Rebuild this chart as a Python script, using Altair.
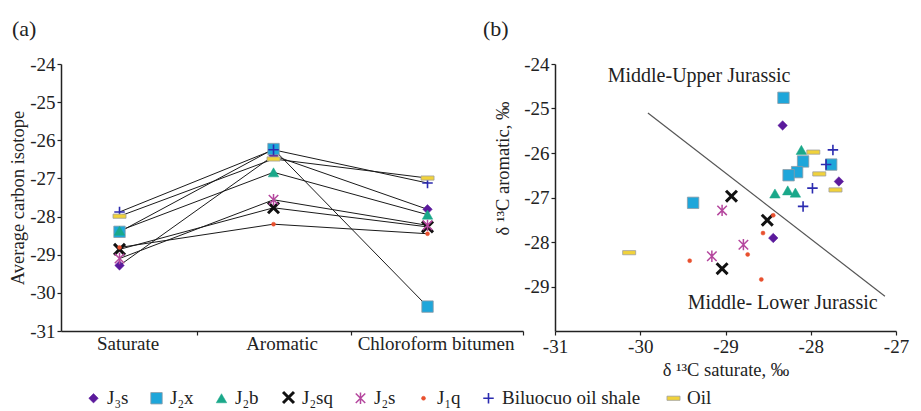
import altair as alt
import pandas as pd

# ---------------- data ----------------
series = ["J₃s", "J₂x", "J₂b", "J₂sq", "J₂s", "J₁q", "Biluocuo  oil shale", "Oil"]
categories = ["Saturate", "Aromatic", "Chloroform bitumen"]

# panel (a): average carbon isotope per series
saturate_avg = [-29.28, -28.40, -28.37, -28.86, -29.10, -28.81, -27.88, -27.99]
aromatic_avg = [-26.40, -26.23, -26.84, -27.77, -27.56, -28.20, -26.25, -26.49]
chloroform_avg = [-27.81, -30.36, -27.95, -28.27, -28.23, -28.45, -27.12, -26.99]

# panel (b): d13C saturate (x) vs d13C aromatic (y)
j3s_sat = [-28.33, -27.67, -28.44]
j3s_aro = [-25.38, -26.64, -27.91]
j2x_sat = [-28.32, -28.09, -28.16, -28.26, -27.76, -29.38]
j2x_aro = [-24.76, -26.19, -26.43, -26.50, -26.26, -27.12]
j2b_sat = [-28.11, -28.42, -28.27, -28.18]
j2b_aro = [-25.93, -26.91, -26.84, -26.89]
j2sq_sat = [-28.93, -28.51, -29.04]
j2sq_aro = [-26.97, -27.51, -28.60]
j2s_sat = [-29.04, -28.79, -29.16]
j2s_aro = [-27.29, -28.06, -28.32]
j1q_sat = [-28.44, -28.56, -28.74, -29.42, -28.58]
j1q_aro = [-27.40, -27.80, -28.28, -28.42, -28.84]
bil_sat = [-27.74, -27.82, -27.98, -28.09]
bil_aro = [-25.93, -26.26, -26.79, -27.20]
oil_sat = [-27.97, -27.90, -27.71, -30.13]
oil_aro = [-25.98, -26.47, -26.83, -28.24]

divider_x = [-29.91, -27.13]
divider_y = [-25.10, -29.22]
zone_labels = ["Middle-Upper Jurassic", "Middle- Lower Jurassic"]
zone_x = [-29.31, -28.33]
zone_y = [-24.27, -29.38]

# ---------------- styles ----------------
FONT = "Liberation Serif"
TXT = "#222222"
X_PATH = "M-1,-1L1,1M-1,1L1,-1"
AST_PATH = "M-1,-1L1,1M-1,1L1,-1M0,-1.2V1.2"
PLUS_PATH = "M-1,0H1M0,-1V1"
BAR_PATH = "M-1,-0.32H1V0.32H-1Z"
shapes = ["diamond", "square", "triangle-up", X_PATH, AST_PATH, "circle", PLUS_PATH, BAR_PATH]
fills = ["#5b1a9c", "#1ea6da", "#1aa88a", "#111111", "#b5479e", "#e8502e", "#2b2bb0", "#f1d23a"]
strokes = ["#5b1a9c", "#8c9aa6", "#1aa88a", "#111111", "#b5479e", "#e8502e", "#2b2bb0", "#a0a0a0"]
widths = [0.5, 0.8, 0.5, 3.0, 1.5, 0.5, 1.6, 0.8]
sizes = [90, 130, 110, 120, 90, 16, 110, 170]

legend_spec = alt.Legend(
    orient="none", legendX=23, legendY=324, direction="horizontal", columns=8,
    title=None, labelFont=FONT, labelFontSize=19, labelColor=TXT, columnPadding=18,
    labelOffset=4,
)

def enc_series():
    return dict(
        shape=alt.Shape("series:N", scale=alt.Scale(domain=series, range=shapes), title=None,
                        sort=series, legend=legend_spec),
        fill=alt.Fill("series:N", scale=alt.Scale(domain=series, range=fills), title=None,
                      sort=series, legend=legend_spec),
        stroke=alt.Stroke("series:N", scale=alt.Scale(domain=series, range=strokes), title=None,
                          sort=series, legend=legend_spec),
        strokeWidth=alt.StrokeWidth("series:N", scale=alt.Scale(type="ordinal", domain=series, range=widths),
                                    title=None, sort=series, legend=legend_spec),
        size=alt.Size("series:N", scale=alt.Scale(type="ordinal", domain=series, range=sizes),
                      title=None, sort=series, legend=legend_spec),
    )

AX = dict(
    grid=False, labelFont=FONT, titleFont=FONT, labelColor=TXT, titleColor=TXT,
    titleFontWeight="normal", domainColor=TXT, tickColor=TXT, domainWidth=1.5, tickWidth=1.2,
    labelFontSize=19, titleFontSize=18.5,
)
HYPHEN = "datum.value < 0 ? '-' + abs(datum.value) : '' + datum.value"

# ---------------- panel (a) ----------------
rows_a = []
for i, s in enumerate(series):
    for j, vals in enumerate([saturate_avg, aromatic_avg, chloroform_avg]):
        rows_a.append({"series": s, "idx": j, "value": vals[i]})
df_a = pd.DataFrame(rows_a)

label_expr = " : ".join(
    [f"datum.value == {j} ? '{c}'" for j, c in enumerate(categories)]
) + " : ''"

x_a = alt.X(
    "idx:Q",
    scale=alt.Scale(domain=[-0.38, 2.62], nice=False, zero=False),
    axis=alt.Axis(
        values=[0, 0.5, 1, 1.5, 2, 2.62],
        labelExpr=label_expr,
        title=None,
        labelOverlap=False,
        labelBound=False,
        labelFlush=False,
        labelOffset=8,
        labelPadding=3,
        tickSize={"condition": {"test": "datum.value % 1 == 0", "value": 0}, "value": 4},
        **AX,
    ),
)
y_a = alt.Y(
    "value:Q",
    scale=alt.Scale(domain=[-31, -24], nice=False, zero=False),
    axis=alt.Axis(values=list(range(-31, -23)), title="Average carbon isotope",
                  tickSize=4, titlePadding=2, labelExpr=HYPHEN, **AX),
)

lines_a = alt.Chart(df_a).mark_line(color="#1a1a1a", strokeWidth=1).encode(
    x=x_a, y=y_a, detail="series:N", order="idx:Q"
)
points_a = alt.Chart(df_a).mark_point(filled=True, opacity=1).encode(
    x=x_a, y=y_a, **enc_series()
)
panel_a = alt.layer(lines_a, points_a).properties(
    width=462, height=267,
    title=alt.TitleParams("(a)", anchor="start", frame="group", dx=-49, fontSize=22,
                          fontWeight="normal", font=FONT, color=TXT, offset=14),
)

# ---------------- panel (b) ----------------
rows_b = []
for s, xs, ys in zip(
    series,
    [j3s_sat, j2x_sat, j2b_sat, j2sq_sat, j2s_sat, j1q_sat, bil_sat, oil_sat],
    [j3s_aro, j2x_aro, j2b_aro, j2sq_aro, j2s_aro, j1q_aro, bil_aro, oil_aro],
):
    for xv, yv in zip(xs, ys):
        rows_b.append({"series": s, "sat": xv, "aro": yv})
df_b = pd.DataFrame(rows_b)

x_b = alt.X(
    "sat:Q",
    scale=alt.Scale(domain=[-31, -27], nice=False, zero=False),
    axis=alt.Axis(values=[-31, -30, -29, -28, -27], title="δ ¹³C saturate, ‰",
                  tickSize=4, labelFlush=False, titlePadding=4, labelExpr=HYPHEN, **AX),
)
y_b = alt.Y(
    "aro:Q",
    scale=alt.Scale(domain=[-30, -24], nice=False, zero=False),
    axis=alt.Axis(values=[-29, -28, -27, -26, -25, -24], title="δ ¹³C aromatic, ‰",
                  tickSize=4, titlePadding=11, titleY=104, labelExpr=HYPHEN, **AX),
)

df_div = pd.DataFrame({"sat": divider_x, "aro": divider_y})
divider = alt.Chart(df_div).mark_line(color="#555555", strokeWidth=1.2).encode(
    x=x_b, y=y_b
)
df_zone = pd.DataFrame({"label": zone_labels, "sat": zone_x, "aro": zone_y})
zones = alt.Chart(df_zone).mark_text(font=FONT, fontSize=20, color=TXT).encode(
    x=x_b, y=y_b, text="label:N",
)
points_b = alt.Chart(df_b).mark_point(filled=True, opacity=1).encode(
    x=x_b, y=y_b, **enc_series()
)
panel_b = alt.layer(points_b, divider, zones).properties(
    width=341, height=267,
    title=alt.TitleParams("(b)", anchor="start", frame="group", dx=-72, fontSize=22,
                          fontWeight="normal", font=FONT, color=TXT, offset=14),
)

chart = (
    alt.hconcat(panel_a, panel_b, spacing=32, bounds="flush")
    .resolve_scale(shape="shared", fill="shared", stroke="shared", strokeWidth="shared", size="shared")
    .properties(padding={"left": 8, "top": 18, "right": 5, "bottom": 5})
    .configure(font=FONT)
    .configure_view(stroke=None)
)

chart.save("out.html", embed_options={"renderer": "svg", "actions": False})
